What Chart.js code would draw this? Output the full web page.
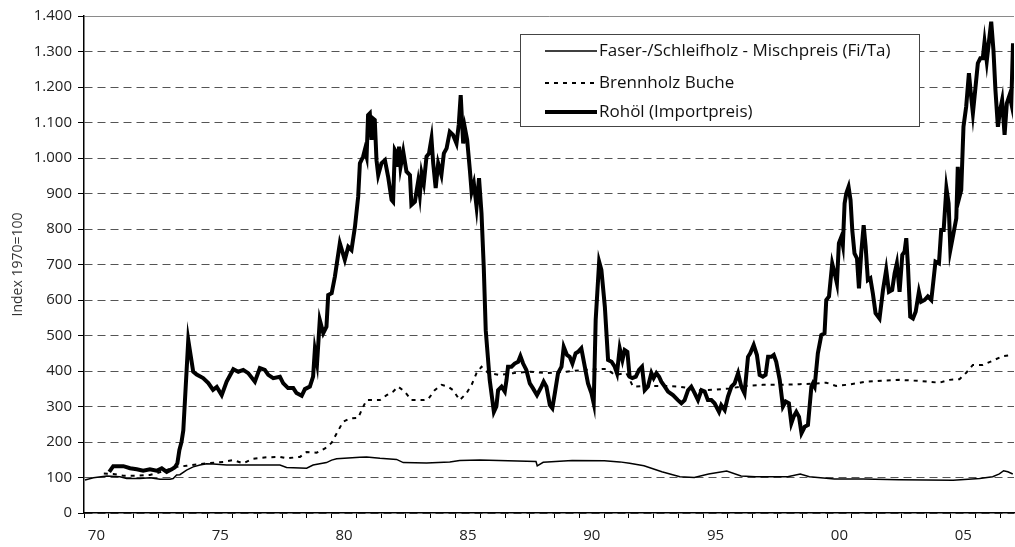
<!DOCTYPE html>
<html>
<head>
<meta charset="utf-8">
<script src="https://cdn.jsdelivr.net/npm/chart.js@4.4.0/dist/chart.umd.min.js"></script>
<style>
  html, body { margin: 0; padding: 0; background: #fff; }
  #wrap { width: 1015px; height: 547px; }
</style>
</head>
<body>
<div id="wrap"><canvas id="c" width="1015" height="547"></canvas></div>
<script>
// ---------- DATA ----------
const seriesLabels = ['Faser-/Schleifholz - Mischpreis (Fi/Ta)', 'Brennholz Buche', 'Rohöl (Importpreis)'];
const yTitle = 'Index 1970=100';
const xTickYears = [1970, 1975, 1980, 1985, 1990, 1995, 2000, 2005];
const xTickLabels = ['70', '75', '80', '85', '90', '95', '00', '05'];

// Faser-/Schleifholz (thin line)
const pulpYears = [1970.04,1970.38,1970.92,1971.45,1971.72,1972.26,1972.66,1973.07,1973.47,1973.60,1973.74,1973.87,1974.14,1974.41,1974.68,1974.95,1975.22,1975.76,1976.30,1977.10,1977.91,1978.18,1978.99,1979.25,1979.79,1980.00,1980.20,1981.14,1981.41,1981.95,1982.62,1982.89,1983.83,1984.77,1985.17,1985.98,1988.25,1988.30,1988.54,1989.71,1991.01,1991.63,1992.03,1992.61,1993.33,1994.06,1994.64,1995.22,1995.95,1996.53,1997.11,1998.41,1998.92,1999.29,2000.30,2001.46,2002.91,2005.09,2006.16,2006.69,2006.96,2007.13,2007.30,2007.50];
const pulpValues = [93,99,104,102,97,97,99,95,95,97,107,108,121,130,135,139,138,135,135,135,135,128,126,135,142,149,153,157,158,154,151,142,141,144,148,149,145,133,143,148,147,144,140,133,116,102,100,110,118,104,102,102,110,102,96,96,94,92,97,102,110,119,116,110];

// Brennholz Buche (dotted line)
const beechYears = [1970.80,1971.18,1971.59,1972.13,1972.66,1972.93,1973.34,1973.74,1974.14,1974.95,1975.62,1976.02,1976.43,1976.83,1977.37,1977.91,1978.18,1978.72,1978.99,1979.39,1979.73,1980.00,1980.20,1980.46,1980.73,1981.07,1981.27,1981.41,1981.95,1982.22,1982.48,1982.68,1982.95,1983.22,1983.69,1983.89,1984.16,1984.44,1984.70,1984.90,1985.17,1985.44,1985.65,1985.85,1986.05,1986.32,1986.79,1987.32,1988.00,1988.67,1989.48,1990.15,1991.09,1991.43,1991.90,1992.17,1992.71,1993.52,1994.05,1994.46,1994.86,1995.40,1996.07,1996.74,1997.41,1998.09,1998.89,1999.43,1999.97,2000.37,2000.78,2001.18,2001.59,2002.26,2002.93,2003.74,2004.54,2004.95,2005.35,2005.62,2005.89,2006.29,2006.69,2007.10,2007.50];
const beechValues = [111,110,105,105,107,112,121,130,133,140,144,149,140,153,157,158,154,158,172,170,182,198,224,257,266,268,299,318,318,332,342,356,342,318,318,320,346,361,356,346,318,337,361,394,412,394,389,394,398,394,398,403,406,389,394,356,358,358,356,351,346,347,351,358,361,361,363,364,367,358,361,365,370,373,375,372,367,375,377,395,417,417,429,442,445];

// Rohöl (bold line)
const oilYears = [1971.02,1971.18,1971.59,1971.86,1972.13,1972.39,1972.66,1972.93,1973.14,1973.34,1973.54,1973.67,1973.77,1973.85,1973.94,1974.01,1974.21,1974.41,1974.55,1974.81,1975.02,1975.21,1975.36,1975.56,1975.76,1976.03,1976.23,1976.43,1976.63,1976.90,1977.10,1977.30,1977.44,1977.64,1977.91,1978.04,1978.24,1978.45,1978.58,1978.79,1978.92,1979.12,1979.25,1979.32,1979.41,1979.52,1979.66,1979.79,1979.86,1980.00,1980.13,1980.33,1980.53,1980.67,1980.80,1980.94,1981.07,1981.14,1981.27,1981.34,1981.41,1981.47,1981.54,1981.61,1981.67,1981.74,1981.81,1981.88,1982.01,1982.15,1982.28,1982.42,1982.48,1982.55,1982.62,1982.68,1982.72,1982.78,1982.89,1983.02,1983.16,1983.22,1983.36,1983.49,1983.56,1983.63,1983.72,1983.83,1983.93,1984.03,1984.10,1984.20,1984.30,1984.43,1984.53,1984.64,1984.77,1984.90,1985.04,1985.13,1985.21,1985.31,1985.38,1985.47,1985.58,1985.65,1985.74,1985.85,1985.95,1986.05,1986.14,1986.22,1986.38,1986.55,1986.65,1986.72,1986.86,1986.99,1987.06,1987.12,1987.26,1987.39,1987.53,1987.62,1987.73,1987.86,1988.00,1988.13,1988.29,1988.47,1988.56,1988.67,1988.81,1988.91,1989.01,1989.14,1989.28,1989.37,1989.50,1989.61,1989.72,1989.85,1989.95,1990.08,1990.22,1990.35,1990.49,1990.58,1990.66,1990.80,1990.89,1991.03,1991.16,1991.30,1991.43,1991.52,1991.63,1991.74,1991.83,1991.94,1992.03,1992.14,1992.28,1992.41,1992.53,1992.64,1992.77,1992.91,1993.00,1993.11,1993.22,1993.31,1993.45,1993.58,1993.78,1993.98,1994.12,1994.25,1994.39,1994.52,1994.66,1994.79,1994.93,1995.06,1995.19,1995.33,1995.46,1995.64,1995.73,1995.87,1996.00,1996.14,1996.27,1996.41,1996.54,1996.67,1996.81,1996.90,1997.04,1997.17,1997.28,1997.41,1997.52,1997.62,1997.75,1997.85,1997.95,1998.09,1998.22,1998.33,1998.46,1998.56,1998.65,1998.76,1998.87,1998.97,1999.10,1999.23,1999.37,1999.43,1999.50,1999.63,1999.77,1999.90,1999.97,2000.08,2000.21,2000.31,2000.40,2000.48,2000.58,2000.64,2000.71,2000.78,2000.87,2000.95,2001.02,2001.11,2001.21,2001.29,2001.38,2001.48,2001.56,2001.65,2001.75,2001.85,2001.96,2002.12,2002.26,2002.39,2002.50,2002.63,2002.73,2002.82,2002.93,2003.04,2003.13,2003.20,2003.27,2003.36,2003.47,2003.58,2003.71,2003.80,2003.94,2004.07,2004.21,2004.27,2004.38,2004.52,2004.61,2004.71,2004.82,2004.91,2004.98,2005.08,2005.22,2005.28,2005.35,2005.42,2005.51,2005.62,2005.73,2005.82,2005.89,2006.00,2006.09,2006.19,2006.29,2006.36,2006.45,2006.53,2006.63,2006.72,2006.80,2006.90,2006.99,2007.07,2007.17,2007.26,2007.37,2007.44,2007.51];
const oilValues = [116,132,132,126,123,119,123,119,126,116,123,129,140,177,201,233,487,398,390,380,366,347,355,332,370,405,398,403,394,370,408,403,389,380,384,366,352,352,338,330,349,356,384,459,422,544,507,525,614,619,666,760,713,750,741,806,891,985,1004,1023,1004,1121,1126,1051,1111,1107,994,952,985,994,947,882,877,1023,1014,975,1032,975,1018,962,952,868,877,933,896,957,929,1004,1013,1055,985,915,985,952,1013,1027,1074,1065,1041,1093,1177,1041,1084,1051,966,905,929,863,943,844,694,515,375,285,300,346,356,342,375,412,412,421,426,442,421,403,365,351,332,356,370,356,304,295,337,394,412,468,445,440,421,450,454,464,412,365,337,309,544,708,685,581,431,426,412,394,464,431,459,454,384,380,384,403,412,346,356,394,380,394,384,370,356,342,332,318,309,318,346,356,337,318,346,342,318,318,309,285,304,290,328,356,365,394,356,337,440,450,473,445,389,384,389,440,440,445,426,375,300,314,309,253,271,285,271,225,243,248,356,365,356,450,501,506,600,610,703,675,647,760,778,755,872,901,919,882,797,731,717,633,731,811,750,656,661,619,563,548,628,685,623,628,675,703,623,727,736,774,694,553,548,567,623,595,600,610,600,637,708,703,797,797,915,872,741,778,830,975,891,910,1088,1145,1239,1173,1126,1203,1267,1281,1281,1327,1273,1323,1384,1304,1192,1088,1135,1163,1065,1154,1177,1154,1323];

// ---------- CHART ----------
const FONT = "'Open Sans', 'DejaVu Sans', sans-serif";
const toXY = (xs, ys) => xs.map((x, i) => ({x: x, y: ys[i]}));
const fmtDE = v => v >= 1000 ? Math.floor(v / 1000) + '.' + String(v % 1000).padStart(3, '0') : String(v);

const styles = [
  {borderWidth: 1.5, borderDash: []},
  {borderWidth: 2, borderDash: [4, 5]},
  {borderWidth: 4, borderDash: []}
];

const legendBox = {
  id: 'legendBox',
  beforeDatasetsDraw(chart) {
    const ctx = chart.ctx;
    ctx.save();
    const bx = 520.5, by = 34.5, bw = 399, bh = 92;
    ctx.fillStyle = '#fff';
    ctx.fillRect(bx, by, bw, bh);
    ctx.strokeStyle = '#444';
    ctx.lineWidth = 1;
    ctx.strokeRect(bx, by, bw, bh);
    const rows = [51, 83, 112];
    chart.data.datasets.forEach((ds, i) => {
      const y = rows[i];
      ctx.beginPath();
      ctx.lineWidth = ds.borderWidth;
      ctx.strokeStyle = '#000';
      ctx.setLineDash(ds.borderDash || []);
      ctx.moveTo(545, y);
      ctx.lineTo(597, y);
      ctx.stroke();
      ctx.setLineDash([]);
      ctx.fillStyle = '#111';
      ctx.font = '17px ' + FONT;
      ctx.textBaseline = 'middle';
      ctx.textAlign = 'left';
      ctx.fillText(ds.label, 599, y);
    });
    ctx.restore();
  }
};

new Chart(document.getElementById('c'), {
  type: 'line',
  data: {
    datasets: [
      {label: seriesLabels[0], data: toXY(pulpYears, pulpValues), borderColor: '#000', borderWidth: styles[0].borderWidth, borderDash: styles[0].borderDash, pointRadius: 0, tension: 0, fill: false, order: 2},
      {label: seriesLabels[1], data: toXY(beechYears, beechValues), borderColor: '#000', borderWidth: styles[1].borderWidth, borderDash: styles[1].borderDash, pointRadius: 0, tension: 0, fill: false, order: 1},
      {label: seriesLabels[2], data: toXY(oilYears, oilValues), borderColor: '#000', borderWidth: styles[2].borderWidth, borderDash: styles[2].borderDash, pointRadius: 0, tension: 0, fill: false, order: 0}
    ]
  },
  options: {
    responsive: false,
    animation: false,
    devicePixelRatio: 1,
    layout: {padding: {top: 16, right: 1, left: 0, bottom: 0}},
    plugins: {legend: {display: false}, tooltip: {enabled: false}},
    scales: {
      x: {
        type: 'linear',
        min: 1970,
        max: 2007.55,
        afterFit: s => { s.height = 34; },
        afterBuildTicks: s => {
          const t = [];
          for (let y = 1970; y <= 2007; y++) {
            t.push({value: y});
            if (xTickYears.includes(y)) t.push({value: y + 0.5});
          }
          s.ticks = t;
        },
        grid: {
          drawOnChartArea: false,
          drawTicks: true,
          tickLength: 5,
          tickColor: c => (c.tick && Math.abs(c.tick.value % 1) < 1e-6) ? '#000' : 'rgba(0,0,0,0)',
          tickWidth: 1
        },
        border: {display: true, color: '#000', width: 1.5},
        ticks: {
          autoSkip: false,
          maxRotation: 0,
          minRotation: 0,
          padding: 9,
          color: '#222',
          font: {family: FONT, size: 15},
          callback: v => {
            const idx = xTickYears.indexOf(Math.round(v - 0.5));
            return (Math.abs(v % 1 - 0.5) < 1e-6 && idx >= 0) ? xTickLabels[idx] : '';
          }
        }
      },
      y: {
        min: 0,
        max: 1400,
        afterFit: s => { s.width = 84; },
        grid: {
          color: c => (c.tick && c.tick.value === 1400) ? '#8a8a8a' : '#555',
          lineWidth: 1,
          drawTicks: true,
          tickLength: 6,
          tickColor: '#000'
        },
        border: {
          display: true, color: '#000', width: 1.5,
          dash: c => (c.tick && c.tick.value === 1400) ? [] : [8, 5]
        },
        ticks: {
          stepSize: 100,
          autoSkip: false,
          padding: 6,
          color: '#222',
          font: {family: FONT, size: 15},
          callback: v => fmtDE(v)
        },
        title: {
          display: true,
          text: yTitle,
          color: '#333',
          font: {family: FONT, size: 14},
          padding: {top: 10, bottom: 0}
        }
      }
    }
  },
  plugins: [legendBox]
});
</script>
</body>
</html>
